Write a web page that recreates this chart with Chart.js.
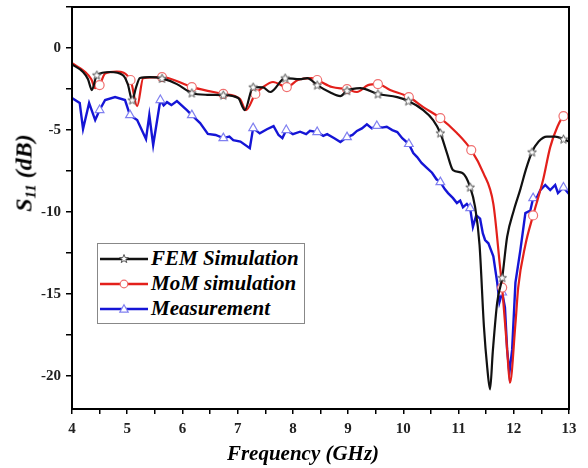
<!DOCTYPE html>
<html>
<head>
<meta charset="utf-8">
<script src="https://cdn.jsdelivr.net/npm/chart.js@4.4.1/dist/chart.umd.min.js"></script>
<style>
  html, body { margin: 0; padding: 0; background: #fff; }
  #wrap { position: relative; width: 588px; height: 468px; font-family: "Liberation Serif", "Times New Roman", serif; }
  #s11Chart { position: absolute; left: 0; top: 0; }
  .ytitle { position: absolute; left: 25px; top: 173px; transform: translate(-50%, -50%) rotate(-90deg);
            font-weight: bold; font-style: italic; font-size: 24px; white-space: nowrap; }
  .ytitle sub { font-size: 15px; vertical-align: -4px; }
  .xtitle { position: absolute; left: 303px; top: 453px; transform: translate(-50%, -50%);
            font-weight: bold; font-style: italic; font-size: 21px; white-space: nowrap; }
  .legend { position: absolute; left: 97px; top: 243px; width: 208px; height: 81px;
            border: 1px solid #888; background: #fff; box-sizing: border-box; padding-top: 2px; }
  .legend .row { display: flex; align-items: center; height: 25px; }
  .legend svg { margin-left: 2px; margin-right: 3px; }
  .legend span { font-weight: bold; font-style: italic; font-size: 21px; white-space: nowrap; }
</style>
</head>
<body>
<div id="wrap">
  <canvas id="s11Chart" width="588" height="468"></canvas>
  <div class="ytitle">S<sub>11</sub> (dB)</div>
  <div class="xtitle">Frequency (GHz)</div>
  <div class="legend" id="legend"></div>
</div>
<script>
// ---- data ----
const seriesNames = ["FEM Simulation", "MoM simulation", "Measurement"];

const femFreq = [4.00, 4.20, 4.29, 4.36, 4.45, 4.69, 4.92, 5.01, 5.09, 5.16, 5.23, 5.41, 5.63, 5.90, 6.17, 6.45, 6.74, 7.01, 7.13, 7.28,
  7.46, 7.59, 7.86, 8.13, 8.26, 8.44, 8.67, 8.86, 8.98, 9.22, 9.54, 9.89, 10.09, 10.36, 10.54, 10.67, 10.79, 10.90, 11.07, 11.21,
  11.30, 11.38, 11.46, 11.52, 11.57, 11.62, 11.70, 11.79, 11.88, 12.00, 12.12, 12.22, 12.33, 12.45, 12.60, 12.75, 12.90, 13.00];
const femS11 = [-1.0, -1.46, -1.9, -2.56, -1.65, -1.46, -1.65, -2.2, -3.17, -2.4, -1.83, -1.77, -1.85, -2.2, -2.74, -2.85, -2.87, -3.05, -3.78, -2.38,
  -2.4, -2.68, -1.83, -1.9, -1.83, -2.26, -2.7, -2.93, -2.6, -2.44, -2.8, -2.99, -3.23, -3.78, -4.39, -5.18, -6.4, -7.44, -7.62, -8.48,
  -9.7, -12.0, -17.0, -19.5, -20.8, -18.5, -15.5, -14.0, -11.5, -9.9, -8.6, -7.4, -6.34, -5.7, -5.4, -5.4, -5.55, -5.7];
const femMarkers = [4.45, 5.09, 5.63, 6.17, 6.74, 7.28, 7.86, 8.44, 8.98, 9.54, 10.09, 10.67, 11.21, 11.79, 12.33, 12.90];

const momFreq = [4.00, 4.24, 4.35, 4.42, 4.50, 4.60, 4.81, 5.06, 5.18, 5.29, 5.63, 6.17, 6.74, 7.04, 7.15, 7.32, 7.46, 7.64, 7.89, 8.09,
  8.33, 8.44, 8.71, 8.98, 9.16, 9.36, 9.54, 9.76, 10.10, 10.36, 10.67, 10.97, 11.23, 11.45, 11.63, 11.75, 11.79, 11.88, 11.93, 12.03,
  12.08, 12.21, 12.35, 12.53, 12.66, 12.79, 12.90, 13.00];
const momS11 = [-0.93, -1.46, -1.9, -2.45, -2.26, -1.55, -1.44, -1.95, -3.54, -1.83, -1.77, -2.38, -2.8, -3.1, -3.78, -2.8, -2.38, -2.07, -2.38, -1.95,
  -1.83, -1.95, -2.38, -2.5, -2.68, -2.26, -2.2, -2.56, -2.99, -3.6, -4.27, -5.18, -6.22, -7.62, -9.5, -13.3, -14.6, -18.4, -20.4, -16.8,
  -14.6, -12.0, -10.2, -8.05, -6.04, -4.8, -4.15, -4.05];
const momMarkers = [4.50, 5.06, 5.63, 6.17, 6.74, 7.32, 7.89, 8.44, 8.98, 9.54, 10.10, 10.67, 11.23, 11.79, 12.35, 12.90];

const measFreq = [4.00, 4.14, 4.20, 4.31, 4.42, 4.50, 4.60, 4.78, 4.96, 5.05, 5.18, 5.34, 5.40, 5.47, 5.60, 5.66, 5.72, 5.80, 5.90, 6.08,
  6.17, 6.32, 6.46, 6.60, 6.74, 6.85, 6.92, 7.05, 7.22, 7.28, 7.40, 7.53, 7.65, 7.74, 7.81, 7.88, 8.00, 8.13, 8.24, 8.31,
  8.44, 8.55, 8.62, 8.75, 8.86, 8.98, 9.08, 9.16, 9.25, 9.34, 9.43, 9.52, 9.61, 9.70, 9.80, 9.89, 9.98, 10.10, 10.18, 10.25,
  10.33, 10.43, 10.52, 10.60, 10.67, 10.75, 10.81, 10.90, 10.97, 11.03, 11.08, 11.15, 11.21, 11.26, 11.32, 11.39, 11.44, 11.48, 11.54, 11.63,
  11.70, 11.74, 11.79, 11.84, 11.88, 11.92, 11.97, 12.03, 12.12, 12.21, 12.30, 12.35, 12.42, 12.48, 12.57, 12.66, 12.75, 12.80, 12.90, 13.00];
const measS11 = [-3.05, -3.35, -4.94, -3.35, -4.39, -3.78, -3.17, -2.99, -3.17, -4.09, -4.39, -5.55, -4.09, -5.91, -3.17, -3.5, -3.3, -3.48, -3.23, -3.78,
  -4.09, -4.57, -5.24, -5.3, -5.49, -5.4, -5.61, -5.7, -6.1, -4.88, -5.2, -4.95, -4.76, -5.3, -5.49, -5.0, -5.25, -5.1, -5.25, -5.05,
  -5.12, -5.35, -5.25, -5.5, -5.73, -5.43, -5.3, -5.05, -4.9, -4.65, -4.9, -4.75, -4.85, -4.8, -5.0, -5.12, -5.5, -5.85, -6.4, -6.65,
  -7.0, -7.32, -7.6, -8.0, -8.17, -8.6, -8.84, -9.15, -9.45, -9.3, -9.7, -9.5, -9.76, -10.9, -10.2, -10.4, -11.3, -11.7, -11.9, -12.7,
  -14.3, -15.5, -14.9, -15.8, -18.4, -19.8, -18.4, -14.3, -12.3, -10.06, -9.9, -9.15, -9.1, -8.66, -8.35, -8.66, -8.35, -8.84, -8.5, -8.9];
const measMarkers = [4.50, 5.05, 5.60, 6.17, 6.74, 7.28, 7.88, 8.44, 8.98, 9.52, 10.10, 10.67, 11.21, 11.79, 12.35, 12.90];

const xTicks = [4, 5, 6, 7, 8, 9, 10, 11, 12, 13];
const yTicks = [-20, -15, -10, -5, 0];

// ---- styling ----
const colors = ["#111111", "#e3201b", "#1515d6"];
const markerColors = ["#555555", "#f07070", "#8080f0"];

function starImage() {
  const c = document.createElement("canvas");
  c.width = 11; c.height = 11;
  const g = c.getContext("2d");
  g.beginPath();
  for (let i = 0; i < 10; i++) {
    const r = i % 2 === 0 ? 4.6 : 2.0;
    const a = -Math.PI / 2 + i * Math.PI / 5;
    g.lineTo(5.5 + r * Math.cos(a), 5.8 + r * Math.sin(a));
  }
  g.closePath();
  g.fillStyle = "#fff";
  g.fill();
  g.strokeStyle = markerColors[0];
  g.lineWidth = 1;
  g.stroke();
  return c;
}
const star = starImage();

function points(fs, vs) {
  return fs.map((f, i) => ({ x: f, y: vs[i] }));
}

function markerRadius(list, r) {
  return ctx => (ctx.raw && list.includes(ctx.raw.x)) ? r : 0;
}

const frame = {
  id: "frame",
  afterDraw(chart) {
    const a = chart.chartArea, g = chart.ctx;
    g.save();
    g.strokeStyle = "#000";
    g.lineWidth = 2;
    g.strokeRect(a.left, a.top, a.right - a.left, a.bottom - a.top);
    g.restore();
  }
};

const ctx = document.getElementById("s11Chart").getContext("2d");

new Chart(ctx, {
  type: "line",
  data: {
    datasets: [
      {
        label: seriesNames[0],
        data: points(femFreq, femS11),
        borderColor: colors[0],
        borderWidth: 2.2,
        cubicInterpolationMode: "monotone",
        pointStyle: star,
        pointRadius: markerRadius(femMarkers, 5),
        order: 1
      },
      {
        label: seriesNames[1],
        data: points(momFreq, momS11),
        borderColor: colors[1],
        borderWidth: 2.2,
        cubicInterpolationMode: "monotone",
        pointStyle: "circle",
        pointRadius: markerRadius(momMarkers, 4.5),
        pointBackgroundColor: "#fff",
        pointBorderColor: markerColors[1],
        pointBorderWidth: 1.2,
        order: 2
      },
      {
        label: seriesNames[2],
        data: points(measFreq, measS11),
        borderColor: colors[2],
        borderWidth: 2.4,
        tension: 0,
        pointStyle: "triangle",
        pointRadius: markerRadius(measMarkers, 5),
        pointBackgroundColor: "#fff",
        pointBorderColor: markerColors[2],
        pointBorderWidth: 1.2,
        order: 3
      }
    ]
  },
  options: {
    responsive: false,
    animation: false,
    layout: { padding: { top: 7, right: 19, left: 0, bottom: 0 } },
    plugins: {
      legend: { display: false },
      tooltip: { enabled: false }
    },
    scales: {
      x: {
        type: "linear",
        min: 4,
        max: 13,
        afterFit(scale) { scale.height = 59; },
        border: { display: true, color: "#000", width: 2 },
        grid: { drawOnChartArea: false, drawTicks: true, tickLength: 5, color: "#000", lineWidth: 1.5 },
        ticks: {
          stepSize: 0.5,
          autoSkip: false,
          maxRotation: 0,
          padding: 6,
          color: "#222",
          font: { family: "Liberation Serif", size: 15, weight: "bold" },
          callback: v => xTicks.includes(v) ? String(v) : ""
        }
      },
      y: {
        type: "linear",
        min: -22,
        max: 2.5,
        afterFit(scale) {
          scale.width = 72;
          scale.paddingTop = 0;
          scale.paddingBottom = 0;
        },
        border: { display: true, color: "#000", width: 2 },
        grid: { drawOnChartArea: false, drawTicks: true, tickLength: 6, color: "#000", lineWidth: 1.5 },
        ticks: {
          stepSize: 2.5,
          includeBounds: false,
          autoSkip: false,
          padding: 5,
          color: "#222",
          font: { family: "Liberation Serif", size: 15, weight: "bold" },
          callback: v => yTicks.includes(v) ? String(v) : ""
        }
      }
    }
  },
  plugins: [frame]
});

// ---- legend (line with marker, as in the figure) ----
const legendMarks = [
  '<polygon points="24,1.5 25.2,4.6 28.4,4.6 25.8,6.5 26.8,9.6 24,7.7 21.2,9.6 22.2,6.5 19.6,4.6 22.8,4.6" fill="#fff" stroke="' + markerColors[0] + '" stroke-width="1"/>',
  '<circle cx="24" cy="6" r="3.8" fill="#fff" stroke="' + markerColors[1] + '" stroke-width="1.2"/>',
  '<polygon points="24,1.8 28.2,9.2 19.8,9.2" fill="#fff" stroke="' + markerColors[2] + '" stroke-width="1.2"/>'
];
const legendEl = document.getElementById("legend");
seriesNames.forEach((name, i) => {
  const row = document.createElement("div");
  row.className = "row";
  row.innerHTML =
    '<svg width="48" height="12"><line x1="0" y1="6" x2="48" y2="6" stroke="' + colors[i] + '" stroke-width="2.4"/>' +
    legendMarks[i] + '</svg><span>' + name + '</span>';
  legendEl.appendChild(row);
});
</script>
</body>
</html>
